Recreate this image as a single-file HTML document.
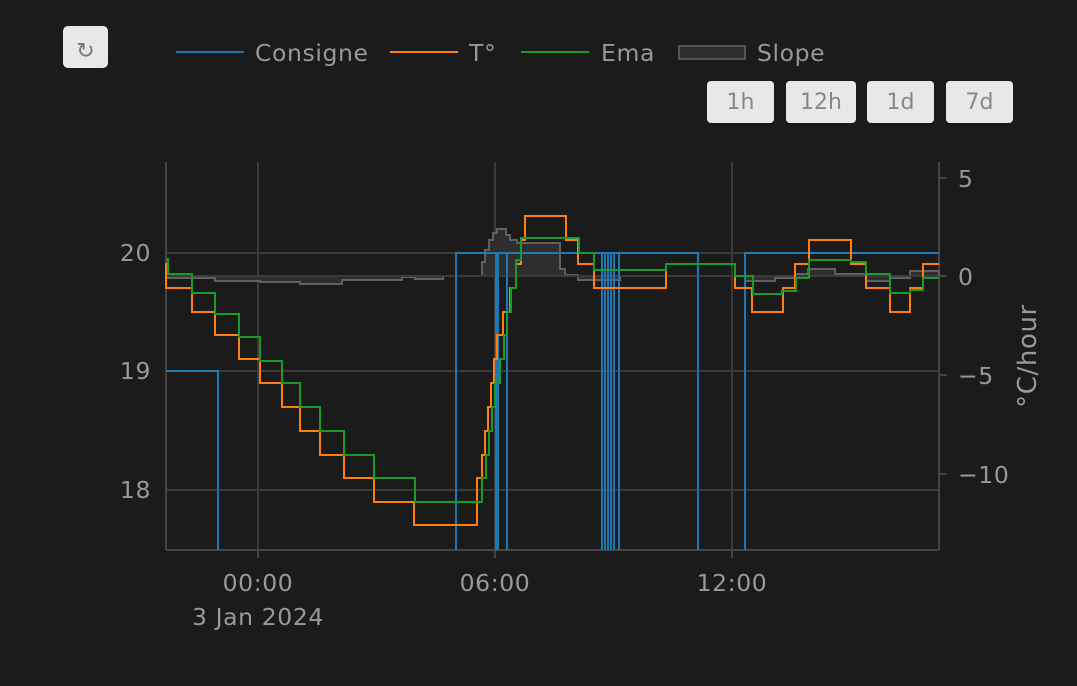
<!DOCTYPE html>
<html><head><style>
body{margin:0;background:#1b1b1b;width:1077px;height:682px;overflow:hidden;font-family:"DejaVu Sans","Liberation Sans",sans-serif}
</style></head><body>
<svg width="1077" height="682" xmlns="http://www.w3.org/2000/svg" font-family="DejaVu Sans, Liberation Sans, sans-serif">
<rect width="1077" height="682" fill="#1b1b1b"/>
<rect x="63" y="26" width="45" height="42" rx="5" fill="#e8e8e8"/>
<text x="85.5" y="58" font-size="22" fill="#777" text-anchor="middle">↻</text>
<g font-size="23.5" fill="#999" letter-spacing="0.6">
<line x1="176" y1="52" x2="244" y2="52" stroke="#1f77b4" stroke-width="2"/>
<text x="255" y="61">Consigne</text>
<line x1="390" y1="52" x2="458" y2="52" stroke="#ff7f0e" stroke-width="2"/>
<text x="469" y="61">T°</text>
<line x1="533" y1="52" x2="589" y2="52" stroke="#1a9a2a" stroke-width="2"/>
<line x1="521" y1="52" x2="589" y2="52" stroke="#1a9a2a" stroke-width="2"/>
<text x="601" y="61">Ema</text>
<rect x="679" y="46" width="66" height="13" fill="#2e2e2e" stroke="#555" stroke-width="2"/>
<text x="757" y="61">Slope</text>
</g>
<g font-size="22" fill="#888" text-anchor="middle">
<rect x="707" y="81" width="67" height="42" rx="4" fill="#e8e8e8"/><text x="740.5" y="109">1h</text>
<rect x="786" y="81" width="70" height="42" rx="4" fill="#e8e8e8"/><text x="821" y="109">12h</text>
<rect x="867" y="81" width="67" height="42" rx="4" fill="#e8e8e8"/><text x="900.5" y="109">1d</text>
<rect x="946" y="81" width="67" height="42" rx="4" fill="#e8e8e8"/><text x="979.5" y="109">7d</text>
</g>
<g stroke="#3a3a3a" stroke-width="2">
<line x1="258" y1="162" x2="258" y2="550"/>
<line x1="495" y1="162" x2="495" y2="550"/>
<line x1="732" y1="162" x2="732" y2="550"/>
<line x1="166" y1="253" x2="939" y2="253"/>
<line x1="166" y1="371" x2="939" y2="371"/>
<line x1="166" y1="490" x2="939" y2="490"/>
</g>
<g stroke="#444" stroke-width="2" fill="none">
<line x1="166" y1="162" x2="166" y2="550"/>
<line x1="939" y1="162" x2="939" y2="550"/>
<line x1="166" y1="550" x2="939" y2="550"/>
<line x1="939" y1="178" x2="947" y2="178"/><line x1="939" y1="276" x2="947" y2="276"/>
<line x1="939" y1="375" x2="947" y2="375"/><line x1="939" y1="474" x2="947" y2="474"/>
<line x1="258" y1="550" x2="258" y2="558"/><line x1="495" y1="550" x2="495" y2="558"/><line x1="732" y1="550" x2="732" y2="558"/>
</g>
<path d="M166,276 V278 H215 V281 H260 V282 H300 V284 H342 V280 H402 V277 H415 V279 H443 V276 H482 V262 H485 V250 H489 V240 H493 V233 H497 V229 H506 V235 H510 V240 H517 V243 H560 V269 H565 V275 H578 V280 H620 V276 H745 V281 H775 V278 H795 V274 H808 V269 H835 V274 H866 V281 H890 V278 H910 V271 H939 V276 Z" fill="#2e2e2e" stroke="#606060" stroke-width="2"/>
<line x1="166" y1="276" x2="939" y2="276" stroke="#3a3a3a" stroke-width="2"/>
<g stroke="#1f77b4" stroke-width="2" fill="none">
<path d="M166,371 H218 V550"/>
<path d="M456,550 V253 H698 V550"/>
<path d="M745,550 V253 H939"/>
<path d="M496,253 V550 M498,253 V550 M507,253 V550 M602,253 V550 M605,253 V550 M608,253 V550 M611,253 V550 M614,253 V550 M619,253 V550"/>
</g>
<path d="M166,263 V288 H192 V312 H215 V335 H239 V359 H260 V383 H282 V407 H300 V431 H320 V455 H344 V478 H374 V502 H414 V525 H477 V478 H482 V455 H485 V431 H488 V407 H491 V383 H494 V359 H497 V335 H503 V312 H510 V288 H516 V264 H521 V240 H525 V216 H566 V240 H578 V264 H594 V288 H666 V264 H735 V288 H752 V312 H783 V288 H795 V264 H809 V240 H851 V264 H866 V288 H890 V312 H910 V288 H923 V264 H939" fill="none" stroke="#ff7f0e" stroke-width="2"/>
<path d="M166,259 H168 V274 H192 V293 H215 V314 H239 V337 H260 V361 H282 V383 H300 V407 H320 V431 H344 V455 H374 V478 H415 V502 H482 V478 H486 V455 H489 V431 H492 V407 H495 V383 H500 V359 H504 V335 H507 V312 H511 V288 H516 V260 H521 V238 H579 V253 H594 V270 H666 V264 H735 V276 H753 V294 H782 V291 H796 V278 H809 V260 H851 V262 H866 V274 H890 V293 H910 V290 H923 V278 H939" fill="none" stroke="#1a9a2a" stroke-width="2"/>
<g font-size="23.5" fill="#999" letter-spacing="0.6">
<text x="151" y="261" text-anchor="end">20</text>
<text x="151" y="379" text-anchor="end">19</text>
<text x="151" y="498" text-anchor="end">18</text>
<text x="958" y="187">5</text>
<text x="958" y="285">0</text>
<text x="958" y="384">−5</text>
<text x="958" y="483">−10</text>
<text x="258" y="591" text-anchor="middle">00:00</text>
<text x="258" y="625" text-anchor="middle">3 Jan 2024</text>
<text x="495" y="591" text-anchor="middle">06:00</text>
<text x="732" y="591" text-anchor="middle">12:00</text>
<text transform="translate(1036,356) rotate(-90)" text-anchor="middle" font-size="26">°C/hour</text>
</g>
</svg>
</body></html>
